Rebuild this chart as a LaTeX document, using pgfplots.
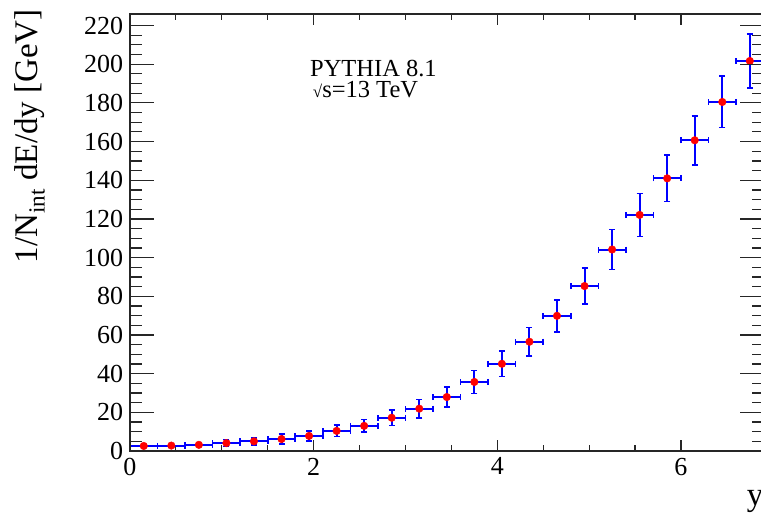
\documentclass[border=0pt]{standalone}
\usepackage{fontspec}
\setmainfont{Liberation Serif}
\usepackage{pgfplots}
\pgfplotsset{compat=1.18}
\usepackage{pgfplotstable}

% energy flow per unit rapidity: bin centre, value, half bin width, stat. error
\pgfplotstableread{
x     y      ex    ey
0.15  2.6    0.15  0.5
0.45  2.8    0.15  0.6
0.75  3.2    0.15  0.7
1.05  4.1    0.15  1.8
1.35  5.0    0.15  1.8
1.65  6.2    0.15  2.5
1.95  7.8    0.15  2.6
2.25  10.4   0.15  2.9
2.55  13.0   0.15  3.2
2.85  17.2   0.15  4.0
3.15  21.9   0.15  4.7
3.45  27.9   0.15  5.2
3.75  35.7   0.15  6.0
4.05  45.1   0.15  6.6
4.35  56.5   0.15  7.4
4.65  69.9   0.15  8.3
4.95  85.3   0.15  9.3
5.25  104.2  0.15  10.3
5.55  122.1  0.15  11.1
5.85  141.0  0.15  12.0
6.15  160.7  0.15  12.7
6.45  180.5  0.15  13.3
6.75  201.7  0.15  14.1
}\dEdy

\pgfplotsset{
  rootframe/.style={
    scale only axis,
    width=633.6pt, height=437pt,
    xmin=0, xmax=6.9, ymin=0, ymax=226,
    axis line style={black!85, line width=1.1pt},
    tick style={black!85, line width=1.1pt},
    tick align=inside,
    /pgf/number format/assume math mode=true,
    tick label style={font=\fontsize{26}{30}\selectfont},
  },
}

\begin{document}
\begin{tikzpicture}
\path[use as bounding box] (-130pt,-63pt) rectangle (631pt,451pt);

% frame, x ticks and the data
\begin{axis}[
  rootframe,
  xtick={0,2,4,6},
  minor x tick num=3,
  major tick length=11pt,
  minor tick length=6pt,
  ytick=\empty,
  xticklabel style={yshift=-3.3pt},
  xlabel={y},
  xlabel style={at={(axis description cs:1,0)}, anchor=base east,
    inner sep=0pt, yshift=-54.5pt, font=\fontsize{33}{37}\selectfont},
  ylabel={1/N\textsubscript{int}~dE/dy [GeV]},
  ylabel style={at={(axis description cs:-0.1452,1.0114)}, rotate=0,
    anchor=base east, inner sep=0pt, font=\fontsize{33}{37}\selectfont},
]
\addplot[blue, line width=2pt, only marks, mark=*, mark size=3.8pt,
  mark options={draw=red, fill=red, line width=0.4pt},
  error bars/.cd,
    x dir=both, x explicit,
    y dir=both, y explicit,
    error mark=|,
    error bar style={draw=blue, line width=2pt},
    error mark options={draw=blue, line width=1.6pt, mark size=3pt},
] table[x=x, y=y, x error=ex, y error=ey] {\dEdy};

\node[anchor=base west, inner sep=0pt, font=\fontsize{24.5}{28}\selectfont]
  at (axis cs:1.96,193.8) {PYTHIA 8.1};
\node[anchor=base west, inner sep=0pt, font=\fontsize{24.5}{28}\selectfont]
  at (axis cs:1.99,182.6) {{\fontsize{17}{20}\selectfont √}s=13 TeV};
\end{axis}

% y ticks, which are longer than the x ticks
\begin{axis}[
  rootframe,
  xtick=\empty,
  ytick={0,20,...,220},
  minor y tick num=3,
  major tick length=24pt,
  minor tick length=12pt,
  yticklabel style={xshift=-3.3pt},
]
\end{axis}
\end{tikzpicture}
\end{document}
